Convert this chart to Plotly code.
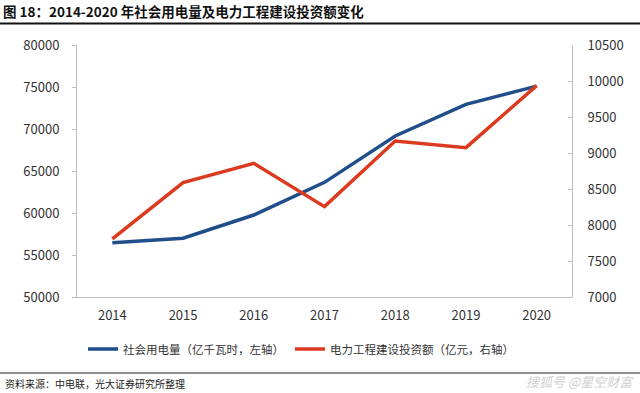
import plotly.graph_objects as go

years = ["2014", "2015", "2016", "2017", "2018", "2019", "2020"]
consumption = [56460, 56990, 59760, 63650, 69170, 72940, 75110]
investment = [7806, 8588, 8856, 8255, 9167, 9074, 9935]
left_ticks = [50000, 55000, 60000, 65000, 70000, 75000, 80000]
right_ticks = [7000, 7500, 8000, 8500, 9000, 9500, 10000, 10500]

BLUE = "#1F4E8A"
RED = "#DC3A1E"
FONT = "Noto Sans CJK SC"

FW, FH = 640, 393
L, R, T, B = 77, 572, 45, 297

def fx(x):
    return x / FW
def fy(y):
    return 1 - y / FH

fig = go.Figure()
fig.add_trace(go.Scatter(x=years, y=consumption, mode="lines",
                         name="社会用电量（亿千瓦时，左轴）",
                         line=dict(color=BLUE, width=3.5), legend="legend"))
fig.add_trace(go.Scatter(x=years, y=investment, mode="lines",
                         name="电力工程建设投资额（亿元，右轴）",
                         line=dict(color=RED, width=3.5), yaxis="y2", legend="legend2"))

legend_common = dict(orientation="h", xanchor="left", y=fy(349), yanchor="middle",
                     font=dict(size=11.5, color="#333333"), bgcolor="rgba(0,0,0,0)")

fig.update_layout(
    width=FW, height=FH,
    margin=dict(l=0, r=0, t=0, b=0, autoexpand=False),
    paper_bgcolor="white", plot_bgcolor="white",
    font=dict(family=FONT, color="#333333", size=13),
    showlegend=True,
    legend=dict(x=fx(83), **legend_common),
    legend2=dict(x=fx(290), **legend_common),
    title=dict(text="<b>图 18：2014-2020 年社会用电量及电力工程建设投资额变化</b>",
               x=3 / FW, xanchor="left", xref="container",
               y=1 - 12 / FH, yanchor="middle", yref="container",
               font=dict(size=13.5, color="#111111", family=FONT)),
    xaxis=dict(type="category", range=[-0.5, 6.5], domain=[fx(L), fx(R)],
               showline=True, linecolor="#BFBFBF", linewidth=1, showgrid=False,
               ticks="", tickfont=dict(size=13), ticklabelstandoff=6, zeroline=False),
    yaxis=dict(range=[50000, 80000], tickvals=left_ticks, domain=[fy(B), fy(T)],
               showline=True, linecolor="#BFBFBF", linewidth=1, showgrid=False,
               ticks="outside", ticklen=4, tickcolor="#BFBFBF", zeroline=False,
               tickformat="d", ticklabelstandoff=10, tickfont=dict(size=13)),
    yaxis2=dict(range=[7000, 10500], tickvals=right_ticks, overlaying="y", side="right",
                anchor="x", showline=True, linecolor="#BFBFBF", linewidth=1,
                showgrid=False, ticks="inside", ticklen=4, tickcolor="#BFBFBF",
                zeroline=False, tickformat="d", ticklabelstandoff=12,
                tickfont=dict(size=13)),
    shapes=[
        dict(type="line", xref="paper", yref="paper", x0=0, x1=1,
             y0=fy(23.5), y1=fy(23.5), line=dict(color="#111111", width=2), layer="above"),
        dict(type="line", xref="paper", yref="paper", x0=0, x1=1,
             y0=fy(373), y1=fy(373), line=dict(color="#222222", width=1), layer="above"),
    ],
    annotations=[
        dict(text="资料来源：中电联，光大证券研究所整理", xref="paper", yref="paper",
             x=fx(3), y=fy(383), xanchor="left", yanchor="middle", showarrow=False,
             font=dict(size=10, color="#222222")),
        dict(text="<i>搜狐号 @星空财富</i>", xref="paper", yref="paper",
             x=fx(636), y=fy(381), xanchor="right", yanchor="middle", showarrow=False,
             font=dict(size=13, color="#D0D0D0")),
    ],
)

fig.write_html("out.html", config={"displayModeBar": False},
               post_script="document.body.style.margin='0';document.body.style.overflow='hidden';")
